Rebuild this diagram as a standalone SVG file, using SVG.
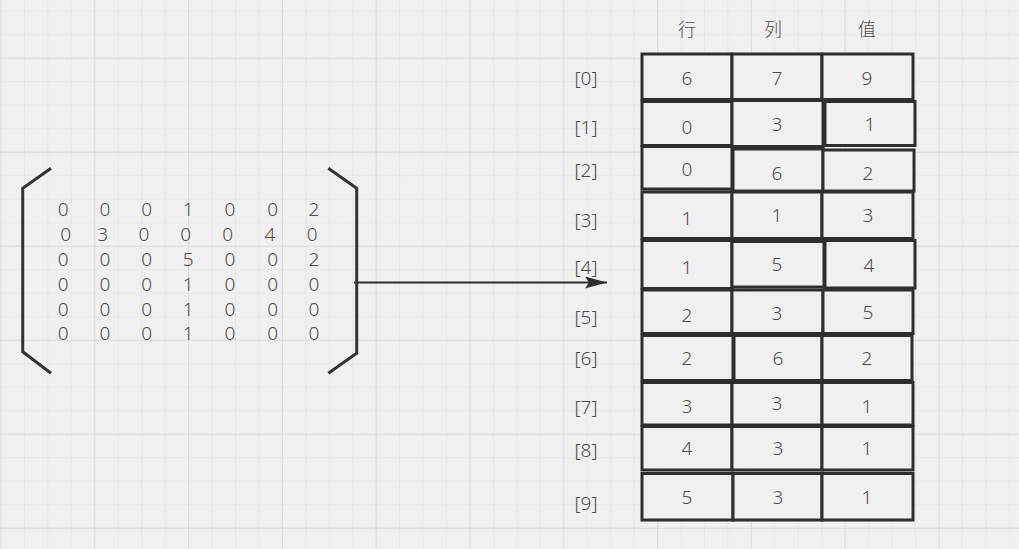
<svg xmlns="http://www.w3.org/2000/svg" width="1019" height="549" viewBox="0 0 1019 549">
<style>
.cell{fill:#f0f0f0;stroke:#2e2e2e;stroke-width:3}
.t{font-family:"Noto Sans","Noto Sans CJK SC",sans-serif;font-weight:300;font-size:19px;fill:#4d4d4d;text-anchor:middle;dominant-baseline:central}
.h{font-family:"Noto Sans CJK SC","Noto Sans",sans-serif;font-weight:300;font-size:18px;fill:#4d4d4d;text-anchor:middle;dominant-baseline:central}
.br{fill:none;stroke:#333;stroke-width:3;stroke-linejoin:miter}
.conn{fill:none;stroke:#2e2e2e;stroke-width:2.2}
</style>
<defs>
<pattern id="minor" patternUnits="userSpaceOnUse" x="0.5" y="10.7" width="23.45" height="23.5">
<path d="M0 0V23.5M0 0H23.45" fill="none" stroke="#e2e2e2" stroke-width="1.2"/>
</pattern>
<pattern id="major" patternUnits="userSpaceOnUse" x="0.5" y="57.7" width="93.8" height="94">
<path d="M0 0V94M0 0H93.8" fill="none" stroke="#d6d6d6" stroke-width="1.3"/>
</pattern>
<marker id="ah" viewBox="0 0 22 12" markerWidth="22" markerHeight="12" refX="22" refY="6" orient="auto" markerUnits="userSpaceOnUse">
<path d="M0 0L22 6L0 12L4 6Z" fill="#2e2e2e"/>
</marker>
</defs>
<rect width="1019" height="549" fill="#f0f0f0"/>
<rect width="1019" height="549" fill="url(#minor)"/>
<rect width="1019" height="549" fill="url(#major)"/>

<g id="matrix">
<path class="br" d="M51 168.3L22.7 188.3V351.7L51 373.3"/>
<path class="br" d="M328.3 168.3L356.7 188.3V353.3L328.3 373.3"/>
<g class="t">
<text x="63.3" y="209.3">0</text><text x="105" y="209.3">0</text><text x="146.7" y="209.3">0</text><text x="188.3" y="209.3">1</text><text x="230" y="209.3">0</text><text x="272.7" y="209.3">0</text><text x="314" y="209.3">2</text>
<text x="65.7" y="234">0</text><text x="102.7" y="234">3</text><text x="144" y="234">0</text><text x="185.7" y="234">0</text><text x="227.7" y="234">0</text><text x="270" y="234">4</text><text x="312.3" y="234">0</text>
<text x="63.3" y="259">0</text><text x="105" y="259">0</text><text x="146.7" y="259">0</text><text x="188.3" y="259">5</text><text x="230" y="259">0</text><text x="272.7" y="259">0</text><text x="314" y="259">2</text>
<text x="63.3" y="284">0</text><text x="105" y="284">0</text><text x="146.7" y="284">0</text><text x="188.3" y="284">1</text><text x="230" y="284">0</text><text x="272.7" y="284">0</text><text x="314" y="284">0</text>
<text x="63.3" y="309">0</text><text x="105" y="309">0</text><text x="146.7" y="309">0</text><text x="188.3" y="309">1</text><text x="230" y="309">0</text><text x="272.7" y="309">0</text><text x="314" y="309">0</text>
<text x="63.3" y="333.3">0</text><text x="105" y="333.3">0</text><text x="146.7" y="333.3">0</text><text x="188.3" y="333.3">1</text><text x="230" y="333.3">0</text><text x="272.7" y="333.3">0</text><text x="314" y="333.3">0</text>
</g>
</g>

<g id="connectors">
<path class="conn" d="M354 282.5H607" marker-end="url(#ah)"/>
</g>

<g id="headers">
<text class="h" x="687" y="27.5">行</text>
<text class="h" x="773" y="27.5">列</text>
<text class="h" x="867" y="27.5">值</text>
</g>

<g id="row-labels" class="t">
<text x="586" y="78">[0]</text>
<text x="586" y="127">[1]</text>
<text x="586" y="170">[2]</text>
<text x="586" y="220">[3]</text>
<text x="586" y="267">[4]</text>
<text x="586" y="317">[5]</text>
<text x="586" y="358">[6]</text>
<text x="586" y="407">[7]</text>
<text x="586" y="450">[8]</text>
<text x="586" y="503">[9]</text>
</g>

<g id="row0">
<rect class="cell" x="642" y="54" width="90" height="45.5"/>
<rect class="cell" x="732" y="54" width="90" height="45.5"/>
<rect class="cell" x="822" y="54" width="91" height="45.5"/>
<g class="t"><text x="687" y="77.5">6</text><text x="777" y="77.5">7</text><text x="867" y="77.5">9</text></g>
</g>
<g id="row1">
<rect class="cell" x="642" y="101.5" width="90" height="44"/>
<rect class="cell" x="732" y="100.5" width="91" height="46"/>
<rect class="cell" x="825" y="101.5" width="90" height="44"/>
<g class="t"><text x="687" y="126.7">0</text><text x="777" y="124">3</text><text x="870" y="124">1</text></g>
</g>
<g id="row2">
<rect class="cell" x="642" y="146.5" width="90" height="42.5"/>
<rect class="cell" x="733" y="149" width="90" height="42"/>
<rect class="cell" x="823" y="150" width="91" height="41"/>
<g class="t"><text x="687" y="169">0</text><text x="777" y="172.7">6</text><text x="868" y="172.7">2</text></g>
</g>
<g id="row3">
<rect class="cell" x="642" y="192" width="90" height="46.5"/>
<rect class="cell" x="732" y="192" width="90" height="46.5"/>
<rect class="cell" x="822" y="192" width="91" height="46.5"/>
<g class="t"><text x="687" y="218">1</text><text x="777" y="215">1</text><text x="868" y="215">3</text></g>
</g>
<g id="row4">
<rect class="cell" x="642" y="240.5" width="90" height="48"/>
<rect class="cell" x="732" y="241.5" width="92" height="45.5"/>
<rect class="cell" x="825" y="240.5" width="90" height="47.5"/>
<g class="t"><text x="687" y="266.7">1</text><text x="777" y="264">5</text><text x="869" y="265">4</text></g>
</g>
<g id="row5">
<rect class="cell" x="642" y="290" width="90" height="43.5"/>
<rect class="cell" x="732" y="290" width="91" height="43.5"/>
<rect class="cell" x="823" y="290" width="90" height="43.5"/>
<g class="t"><text x="687" y="315">2</text><text x="777" y="312.7">3</text><text x="868" y="311.7">5</text></g>
</g>
<g id="row6">
<rect class="cell" x="642" y="335.5" width="91" height="45"/>
<rect class="cell" x="734" y="335.5" width="88" height="45"/>
<rect class="cell" x="822" y="335.5" width="90" height="45"/>
<g class="t"><text x="687" y="358.3">2</text><text x="778" y="358.3">6</text><text x="867" y="358.3">2</text></g>
</g>
<g id="row7">
<rect class="cell" x="642" y="382.5" width="90" height="42.5"/>
<rect class="cell" x="732" y="382.5" width="90" height="42.5"/>
<rect class="cell" x="822" y="382.5" width="91" height="42.5"/>
<g class="t"><text x="687" y="406">3</text><text x="777" y="403.3">3</text><text x="867" y="406">1</text></g>
</g>
<g id="row8">
<rect class="cell" x="642" y="426.5" width="90" height="43.5"/>
<rect class="cell" x="732" y="426.5" width="90" height="43.5"/>
<rect class="cell" x="822" y="426.5" width="91" height="43.5"/>
<g class="t"><text x="687" y="448.3">4</text><text x="778" y="448.3">3</text><text x="867" y="448.3">1</text></g>
</g>
<g id="row9">
<rect class="cell" x="642" y="473.5" width="91" height="46.5"/>
<rect class="cell" x="733" y="473.5" width="89" height="46.5"/>
<rect class="cell" x="822" y="473.5" width="91" height="46.5"/>
<g class="t"><text x="687" y="496.7">5</text><text x="778" y="496.7">3</text><text x="867" y="496.7">1</text></g>
</g>
</svg>
